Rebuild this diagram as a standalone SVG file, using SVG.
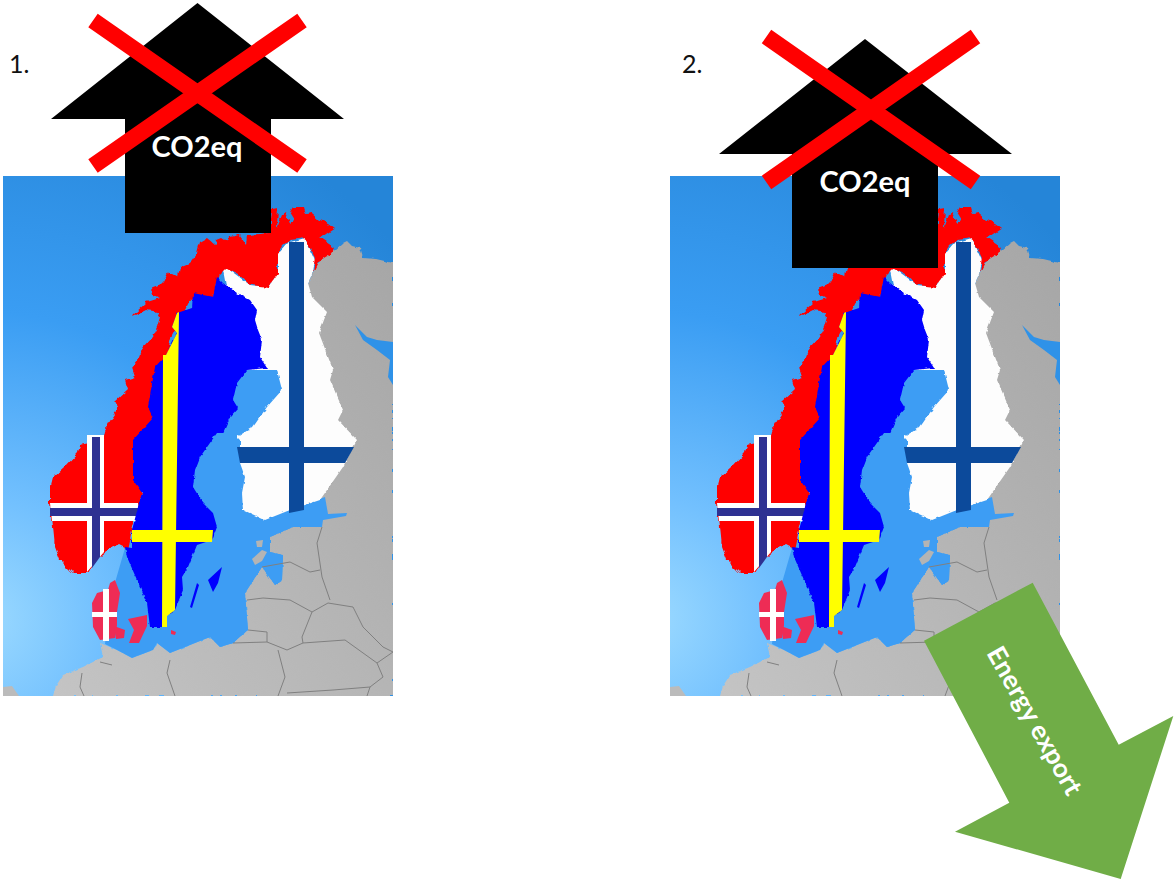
<svg xmlns="http://www.w3.org/2000/svg" xmlns:xlink="http://www.w3.org/1999/xlink" width="1174" height="881" viewBox="0 0 1174 881">
<style>
.cap{font-family:"Lato","Liberation Sans",sans-serif;font-size:25px;fill:#111}
.lbl{font-family:"Lato","Liberation Sans",sans-serif;font-weight:700;font-size:29px;fill:#fff;text-anchor:middle}
.xm{stroke:#f00;stroke-width:16.5;fill:none}
.bd{fill:none;stroke:#808080;stroke-width:1}
</style>
<defs>
<radialGradient id="sea" gradientUnits="userSpaceOnUse" cx="-20" cy="620" r="560">
<stop offset="0" stop-color="#9cdaff"/><stop offset=".22" stop-color="#72c0fe"/><stop offset=".55" stop-color="#3a9df3"/><stop offset="1" stop-color="#2585d8"/>
</radialGradient>
<linearGradient id="land" x1="0" y1="1" x2="1" y2="0">
<stop offset="0" stop-color="#c4c4c4"/><stop offset="1" stop-color="#a6a6a6"/>
</linearGradient>
<filter id="rough" x="-5%" y="-5%" width="110%" height="110%"><feTurbulence type="fractalNoise" baseFrequency=".14" numOctaves="2" seed="4"/><feDisplacementMap in="SourceGraphic" scale="6" xChannelSelector="R" yChannelSelector="G"/></filter>
<filter id="soft" x="-5%" y="-5%" width="110%" height="110%"><feTurbulence type="fractalNoise" baseFrequency=".2" numOctaves="2" seed="9"/><feDisplacementMap in="SourceGraphic" scale="3" xChannelSelector="R" yChannelSelector="G"/></filter>
<clipPath id="mc"><rect x="3" y="176" width="390" height="520"/></clipPath>
<g id="map" clip-path="url(#mc)">
<rect x="3" y="176" width="390" height="520" fill="url(#sea)"/>
<path d="M3 687 12 686 19 696H3Z" fill="#bbb"/>
<polygon fill="url(#land)" filter="url(#soft)" points="318,262 335,250 343,243 347,241 352,246 360,248 363,258 376,259 393,263 393,696 53,696 56,686 63,675 83,667 103,657 100,643 117,650 132,658 153,650 157,643 170,653 210,637 220,647 233,643 248,630 245,593 262,567 275,585 282,580 283,555 270,552 270,537 293,527 322,527 300,500 300,300"/>
<polygon fill="#3d9df4" points="125,548 240,360 285,360 290,510 325,497 328,514 347,513 346,516 323,520 322,527 293,527 270,537 270,552 283,555 282,580 275,585 262,567 245,593 248,630 233,643 220,647 210,637 170,653 157,643 153,650 132,658 117,650 105,644 110,600"/>
<polygon fill="#b4b4b4" points="252,559 262,550 267,552 262,561 255,565"/>
<polygon fill="#b4b4b4" points="256,541 263,540 262,547 257,547"/>
<polygon fill="#2f92e8" points="355,325 367,337 377,340 393,342 393,385 388,377 390,360 377,350 363,340"/>
<path class="bd" d="M322 527 317 543 322 577 330 600M262 567 290 562 310 572 320 570M247 600 263 598 290 600 312 612 328 603 353 607 363 627 383 647 393 652M248 630 267 632 267 642 233 643M312 612 302 637 303 643 287 650 267 642M278 650 285 677 278 696M303 643 345 640 377 663 393 652M377 663 383 677 370 687 367 696M287 693 333 690 370 687M170 660 167 673 175 696M82 673 80 687 84 696M100 662 112 665"/>
<polygon fill="#fdfdfd" filter="url(#soft)" points="223,270 227,268 250,285 268,287 278,273 278,253 287,243 305,238 315,260 313,272 308,283 312,297 327,312 319,333 333,370 330,380 343,410 338,420 357,440 343,467 320,500 290,510 265,520 243,510 242,493 245,477 240,463 240,440 237,437 253,427 267,407 282,390 277,370 247,370 240,360"/>
<path fill="#0c4a9b" d="M289 242H304V510L289 513ZM237 447H354L345 463H240Z"/>
<polygon fill="#f00" filter="url(#rough)" points="335,228 328,223 320,220 312,213 306,214 304,207 293,207 290,212 295,220 290,225 286,212 282,215 277,228 278,207 272,208 270,233 248,235 247,245 240,235 230,237 225,240 222,238 217,240 215,245 207,238 200,242 197,253 190,263 180,267 178,277 168,272 163,282 160,285 152,288 153,295 160,298 147,302 135,313 133,317 147,310 157,312 160,317 157,327 152,337 143,347 138,360 132,368 135,377 125,380 128,390 115,402 118,408 110,420 105,430 103,440 80,445 78,453 65,467 53,478 50,490 50,503 52,517 55,547 60,560 73,573 87,573 93,563 103,553 118,545 128,550 132,530 138,507 142,493 150,440 170,340 190,300 213,297 220,275 227,268 237,273 250,285 268,287 278,273 278,253 283,245 290,240 305,238 315,258 313,272 318,262 331,254 335,248 320,238"/>
<path fill="#fff" d="M87 435H104V552L87 572ZM50 503H138V521H52Z"/>
<path fill="#2e3192" d="M92 437H100V557L92 568ZM50 508H138V516H50Z"/>
<polygon fill="#00f" filter="url(#soft)" points="217,277 223,283 237,293 250,300 257,310 255,320 258,330 262,340 260,357 267,368 247,370 237,383 233,400 238,408 230,417 223,433 217,433 200,457 195,470 193,487 203,503 213,513 217,527 212,540 197,545 188,567 182,577 183,590 175,610 165,617 163,627 150,627 147,603 127,557 125,547 132,548 132,530 138,507 142,493 133,480 133,440 153,418 148,407 155,367 166,355 177,333 172,327 177,313 192,308 193,293 213,297"/>
<path fill="#ff0" d="M179 312 175 610 167 616 167 627 162 627 163 355 166 355 177 333 172 327 177 313ZM132 530H213L212 542H132Z"/>
<path fill="#00f" d="M208 580 222 567 218 583 213 592ZM197 583 190 607 192 608 199 585Z"/>
<polygon fill="#ee2c55" points="115,580 120,593 117,612 117,625 115,638 100,640 93,627 92,603 97,593 108,590 110,583"/>
<polygon fill="#ee2c55" points="114,626 125,630 124,638 116,639"/>
<polygon fill="#ee2c55" points="128,619 147,615 147,626 139,643 129,643 134,630"/>
<polygon fill="#ee2c55" points="171,630 176,632 175,635 171,634"/>
<path fill="#fff" d="M103 589H109V641H103ZM92 612H117V617H92Z"/>
</g>
</defs>

<g id="panel-1">
<use href="#map" xlink:href="#map"/>
<text class="cap" x="9" y="73">1.</text>
<g id="co2-arrow-1">
<polygon points="197.5,3 344,119 271,119 271,233 125,233 125,119 51,119"/>
<text class="lbl" x="197" y="157">CO2eq</text>
</g>
<path id="cross-1" class="xm" d="M93 20.5 302 166M302 20.5 93 166"/>
</g>

<g id="panel-2">
<use href="#map" xlink:href="#map" x="667"/>
<text class="cap" x="682" y="73">2.</text>
<g id="co2-arrow-2">
<polygon points="865,39 1012,154 938,154 938,268 792,268 792,154 719,154"/>
<text class="lbl" x="865" y="192">CO2eq</text>
</g>
<path id="cross-2" class="xm" d="M766.5 36.5 975.5 182.5M975.5 36.5 766.5 182.5"/>
<g id="energy-arrow">
<polygon fill="#70ad47" points="1032.7,582.7 1118.7,744.7 1173.3,716 1120.7,879 955,831.7 1009.3,802.7 924,640.7"/>
<text transform="translate(986,653) rotate(60.5)" font-family="Lato,'Liberation Sans',sans-serif" font-weight="700" font-size="26" fill="#fff" textLength="166" lengthAdjust="spacingAndGlyphs">Energy export</text>
</g>
</g>
</svg>
